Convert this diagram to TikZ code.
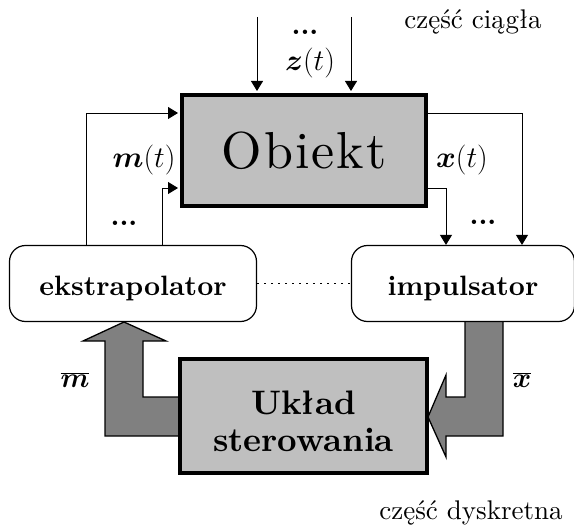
\RequirePackage{fix-cm}
\documentclass[tikz,border=0pt]{standalone}
\usepackage{fontspec}
\setmainfont{lmroman10-regular.otf}[
  BoldFont=lmroman10-bold.otf,
  ItalicFont=lmroman10-italic.otf,
  BoldItalicFont=lmroman10-bolditalic.otf]
\usepackage{bm}
\usetikzlibrary{arrows.meta}

\newcommand{\rozmiar}[2]{\fontsize{#1}{#2}\selectfont}

\tikzset{
  blok/.style={draw, line width=4pt, fill=black!25, inner sep=0pt},
  zaokr/.style={draw, fill=white, line width=1.2pt, rounded corners=16pt, inner sep=0pt,
    minimum height=76pt, text height=23pt, text depth=0pt,
    font=\bfseries\rozmiar{28}{32}},
  sygnal/.style={line width=0.9pt, -{Triangle[length=10pt,width=12pt]}},
  strzalka/.style={draw, line width=1.3pt, fill=black!50, line join=miter},
  opis/.style={font=\rozmiar{30}{32}, inner sep=0pt},
  opiskreska/.style={font=\rozmiar{28}{30}, inner sep=0pt},
  kropki/.style={font=\bfseries\rozmiar{28}{30}, inner sep=0pt},
  czesc/.style={font=\rozmiar{27}{30}, inner sep=0pt},
}

\begin{document}
\begin{tikzpicture}[x=1pt,y=-1pt]
  \useasboundingbox (0,0) rectangle (574,527);

  % szerokie strzalki czesci dyskretnej
  \draw[strzalka] (180,397) -- (143,397) -- (143,341) -- (166,341) -- (124,322)
    -- (83,341) -- (105,341) -- (105,436) -- (180,436) -- cycle;
  \draw[strzalka] (465,321) -- (503,321) -- (503,436) -- (446,436) -- (446,457)
    -- (428,417) -- (446,375) -- (446,397) -- (465,397) -- cycle;

  % bloki
  \node[blok, minimum width=244pt, minimum height=111pt,
        font=\rozmiar{52}{56}\addfontfeature{LetterSpace=4}] (obiekt) at (304,150.5) {Obiekt};
  \node[zaokr, minimum width=247pt] (ekstr) at (133,283.5) {ekstrapolator};
  \node[zaokr, minimum width=223pt] (impuls) at (463,283.5) {impulsator};
  \node[blok, minimum width=247pt, minimum height=114pt] (uklad) at (303.5,416) {};
  \node[font=\bfseries\rozmiar{34}{37}, align=center, inner sep=0pt]
    (ukladopis) at (303.5,421.5) {Układ\\sterowania};

  % zaklocenia z(t)
  \coordinate (lz) at (257,17);
  \coordinate (pz) at (351,17);
  \draw[sygnal, shorten >=2pt] (lz) -- (lz |- obiekt.north);
  \draw[sygnal, shorten >=2pt] (pz) -- (pz |- obiekt.north);

  % wejscia m(t) i wyjscia x(t)
  \coordinate (we1) at ([yshift=37.5pt]obiekt.west);
  \coordinate (we2) at ([yshift=-37.5pt]obiekt.west);
  \coordinate (wy1) at ([yshift=37.5pt]obiekt.east);
  \coordinate (wy2) at ([yshift=-37.5pt]obiekt.east);
  \draw[sygnal, shorten >=2pt] (ekstr.north -| 86,0) |- (we1);
  \draw[sygnal, shorten >=2pt] (ekstr.north -| 162,0) |- (we2);
  \draw[sygnal] (wy1) -| (impuls.north -| 522,0);
  \draw[sygnal] (wy2) -| (impuls.north -| 446,0);

  \draw[line width=1pt, dash pattern=on 1.5pt off 5.5pt] (ekstr) -- (impuls);

  % opisy sygnalow
  \node[kropki] (kz) at (305,32) {...};
  \node[opis] (z) at (310,63) {$\bm{z}(t)$};
  \node[opis] (m) at (144,160) {$\bm{m}(t)$};
  \node[opis] (x) at (462,160) {$\bm{x}(t)$};
  \node[kropki] (km) at (124,223) {...};
  \node[kropki] (kx) at (483,222) {...};
  \node[opiskreska] (mbar) at (75,380) {$\overline{\bm{m}}$};
  \node[opiskreska] (xbar) at (522,380) {$\overline{\bm{x}}$};

  \node[czesc] (ciagla) at (473,22) {część ciągła};
  \node[czesc] (dyskretna) at (471,513) {część dyskretna};
\end{tikzpicture}
\end{document}
